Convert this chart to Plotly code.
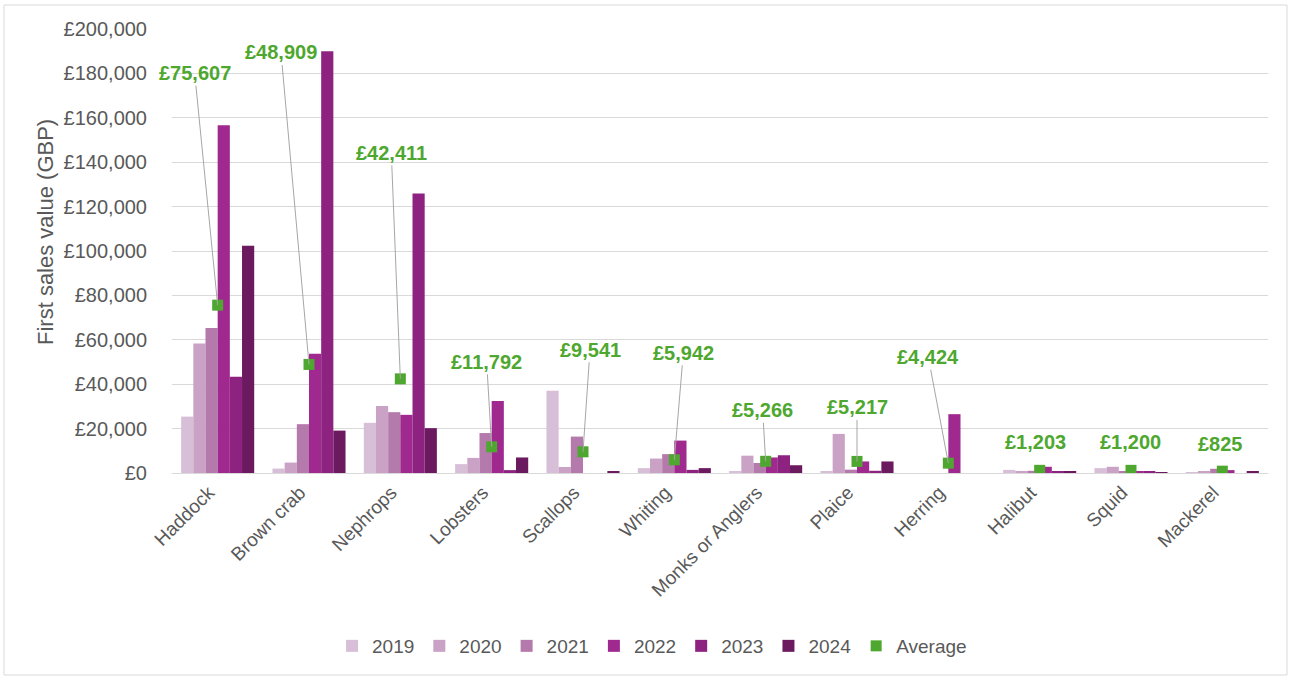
import plotly.graph_objects as go

species = ["Haddock", "Brown crab", "Nephrops", "Lobsters", "Scallops", "Whiting",
           "Monks or Anglers", "Plaice", "Herring", "Halibut", "Squid", "Mackerel"]

years = ["2019", "2020", "2021", "2022", "2023", "2024"]

v2019 = [25400, 2000, 22600, 4000, 37000, 2200, 800, 800, 0, 1400, 2200, 300]
v2020 = [58300, 4700, 30200, 6800, 2700, 6500, 7800, 17600, 0, 600, 2800, 800]
v2021 = [65300, 22000, 27400, 18000, 16400, 8500, 4500, 1500, 0, 1000, 700, 1900]
v2022 = [156700, 53700, 26200, 32400, 0, 14600, 7000, 5200, 26500, 2800, 700, 1300]
v2023 = [43300, 190000, 125900, 1300, 0, 1400, 8000, 1000, 0, 700, 500, 0]
v2024 = [102400, 19100, 20200, 7000, 600, 2200, 3500, 5200, 0, 700, 300, 600]

average = [75607, 48909, 42411, 11792, 9541, 5942, 5266, 5217, 4424, 1203, 1200, 825]

y_ticks = [0, 20000, 40000, 60000, 80000, 100000, 120000, 140000, 160000, 180000, 200000]
y_ticktext = [f"£{v:,}" for v in y_ticks]

# styling / layout (not data)
colors = ["#D8BFD8", "#C9A2C5", "#B57AAC", "#A0298F", "#8E2281", "#6C1A60"]
green = "#4EA72E"
label_ax = [-23, -28, -9, -5, 7, 9, -3, 0, -20, -4, -1, -2]
label_ay = [-232, -312, -226, -85, -102, -107, -51, -54, -106, -28, -28, -27]
label_arrow = [True] * 9 + [False] * 3

series = [v2019, v2020, v2021, v2022, v2023, v2024]

FONT = "Liberation Sans, Arial, sans-serif"
GREY = "#595959"

fig = go.Figure()
for yr, vals, col in zip(years, series, colors):
    fig.add_trace(go.Bar(x=species, y=vals, name=yr, marker=dict(color=col, line=dict(width=0))))

fig.add_trace(go.Scatter(x=species, y=average, name="Average", mode="markers",
                         marker=dict(symbol="square", size=11, color=green)))

annotations = []
for sp, av, ax, ay, arr in zip(species, average, label_ax, label_ay, label_arrow):
    txt = f"£{av:,}"
    if arr:
        annotations.append(dict(x=sp, y=av, xref="x", yref="y", text=txt, showarrow=True,
                                ax=ax, ay=ay, arrowhead=0, arrowwidth=1, arrowcolor="#A6A6A6",
                                standoff=0, startstandoff=0,
                                font=dict(family=FONT, size=20, color=green, weight="bold")))
    else:
        annotations.append(dict(x=sp, y=av, xref="x", yref="y", text=txt, showarrow=False,
                                xshift=ax, yshift=-ay,
                                font=dict(family=FONT, size=20, color=green, weight="bold")))

annotations.append(dict(text="First sales value (GBP)", xref="paper", yref="paper",
                        x=(45 - 172) / 1096, y=(473 - 232) / 444, textangle=-90,
                        showarrow=False, xanchor="center", yanchor="middle",
                        font=dict(family=FONT, size=22, color=GREY)))

fig.update_layout(
    width=1290, height=677,
    margin=dict(l=172, r=22, t=29, b=204),
    paper_bgcolor="white", plot_bgcolor="white",
    barmode="group", bargap=0.2, bargroupgap=0,
    font=dict(family=FONT, size=18, color=GREY),
    showlegend=True,
    legend=dict(orientation="h", x=0.438, y=(473 - 646) / 444, xanchor="center", yanchor="middle",
                font=dict(family=FONT, size=19, color=GREY), traceorder="normal",
                itemwidth=30),
    annotations=annotations,
    shapes=[dict(type="rect", xref="paper", yref="paper",
                 x0=(4 - 172) / 1096, x1=(1287 - 172) / 1096,
                 y0=(473 - 675) / 444, y1=(473 - 5) / 444,
                 line=dict(color="#D9D9D9", width=1), fillcolor="rgba(0,0,0,0)", layer="below")],
)

fig.update_yaxes(range=[0, 200000], tickmode="array", tickvals=y_ticks, ticktext=y_ticktext,
                 showgrid=True, gridcolor="#D9D9D9", gridwidth=1, zeroline=False,
                 showline=False, ticks="", ticklabelstandoff=24,
                 tickfont=dict(family=FONT, size=20, color=GREY))
fig.update_xaxes(range=[-0.5, len(species) - 0.5], tickangle=-45, showline=True,
                 linecolor="#D9D9D9", linewidth=1,
                 ticks="", ticklabelshift=-9,
                 tickfont=dict(family=FONT, size=19, color=GREY))

fig.write_html("out.html", post_script="document.body.style.margin='0';",
               config={"displayModeBar": False})
